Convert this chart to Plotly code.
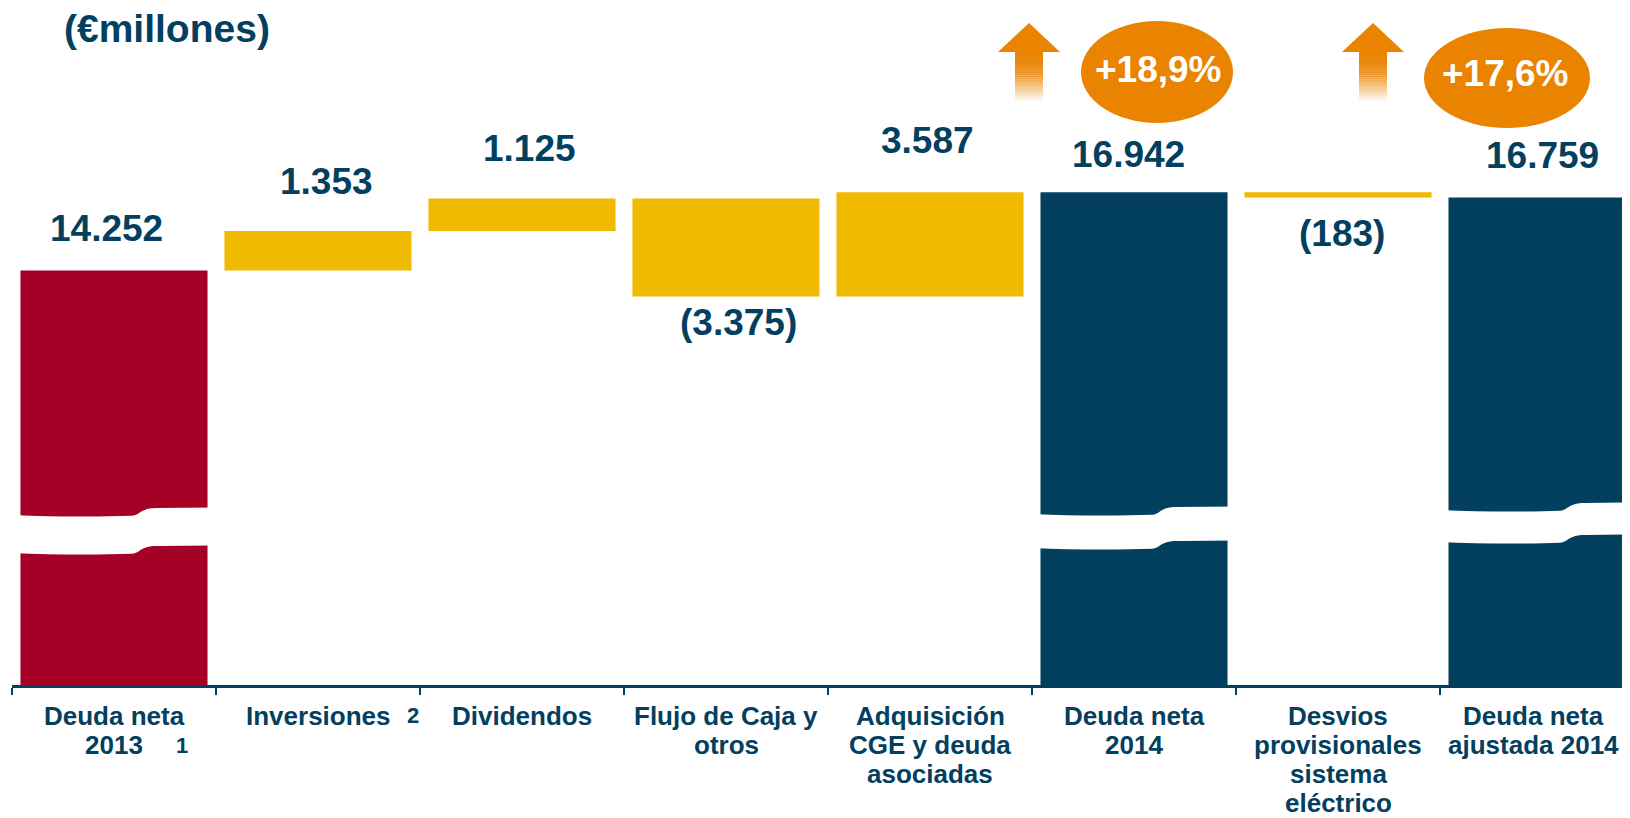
import plotly.graph_objects as go

# ---------------- data ----------------
categories = [
    "Deuda neta<br>2013",
    "Inversiones",
    "Dividendos",
    "Flujo de Caja y<br>otros",
    "Adquisición<br>CGE y deuda<br>asociadas",
    "Deuda neta<br>2014",
    "Desvios<br>provisionales<br>sistema<br>eléctrico",
    "Deuda neta<br>ajustada 2014",
]
values = [14252, 1353, 1125, -3375, 3587, 16942, -183, 16759]
is_total = [True, False, False, False, False, True, False, True]
value_labels = ["14.252", "1.353", "1.125", "(3.375)", "3.587", "16.942", "(183)", "16.759"]
footnote_marks = ["1", "2"]
growth_labels = ["+18,9%", "+17,6%"]
unit_title = "(€millones)"

# ---------------- style / layout ----------------
RED = "#A50026"
NAVY = "#03405F"
YELLOW = "#F0BA00"
ORANGE = "#E98300"
FONT = "Liberation Sans, Arial, sans-serif"

OFF = 8                      # page body margin of the html page
WIN_W, WIN_H = 1630, 818
W, H = WIN_W - OFF, WIN_H - OFF
AXIS_Y = 685                 # window px of the x axis
ML = 12 - OFF
PLOT_H = AXIS_Y - OFF
MB = H - PLOT_H
STEP = 204.0                 # px per category
UPP = 34.38                  # value units per px
YMAX = PLOT_H * UPP
XMAX = -0.5 + (W - ML) / STEP


def px_x(px):                # window px -> x data
    return -0.5 + (px - 12) / STEP


def px_y(py):                # window px -> y data
    return (AXIS_Y - py) * UPP


def paper_y(py):
    return px_y(py) / YMAX


# ---------------- waterfall geometry ----------------
bases, heights = [], []
running = 0
for v, t in zip(values, is_total):
    if t:
        bases.append(0)
        heights.append(v)
        running = v
    else:
        if v >= 0:
            bases.append(running)
            heights.append(v)
        else:
            bases.append(running + v)
            heights.append(-v)
        running += v

colors = []
for i, t in enumerate(is_total):
    if t:
        colors.append(RED if i == 0 else NAVY)
    else:
        colors.append(YELLOW)

xs = list(range(len(categories)))

fig = go.Figure()
fig.add_trace(go.Bar(
    x=xs, y=heights, base=bases, width=0.917,
    marker=dict(color=colors, line=dict(width=0)),
    hoverinfo="skip", showlegend=False,
))

annotations = []
# value labels
label_dy = [42, 50, 50, 26, 52, 38, 36, 42]
label_dx = [-8, 8, 7, 12, -3, -6, 4, 0]
for i, (v, t) in enumerate(zip(values, is_total)):
    if t or v >= 0:
        y = bases[i] + heights[i]
        ys = label_dy[i]
    else:
        y = bases[i]
        ys = -label_dy[i]
    annotations.append(dict(
        x=xs[i], y=y, xref="x", yref="y", text=value_labels[i], showarrow=False,
        xanchor="center", yanchor="middle", yshift=ys, xshift=label_dx[i],
        font=dict(family=FONT, size=37, color=NAVY, weight="bold"),
    ))

# category labels (one annotation per line for tight line spacing)
LINE0, LINE_STEP = 716, 29.1
cat_dx = [0, 0, 0, 0, 0, 0, 0, -9]
for i, cat in enumerate(categories):
    for k, line in enumerate(cat.split("<br>")):
        annotations.append(dict(
            x=xs[i], y=paper_y(LINE0 + k * LINE_STEP), xref="x", yref="paper",
            text=line, showarrow=False, xanchor="center", yanchor="middle",
            xshift=cat_dx[i],
            font=dict(family=FONT, size=26, color=NAVY, weight="bold"),
        ))

# footnote marks on category labels
foot_pos = [(182, 745), (413, 715)]
for mark, (fx, fy) in zip(footnote_marks, foot_pos):
    annotations.append(dict(
        x=px_x(fx), y=paper_y(fy), xref="x", yref="paper", text=mark, showarrow=False,
        xanchor="center", yanchor="middle",
        font=dict(family=FONT, size=22, color=NAVY, weight="bold"),
    ))

# title
annotations.append(dict(
    x=px_x(62), y=paper_y(29), xref="x", yref="paper", text=unit_title, showarrow=False,
    xanchor="left", yanchor="middle",
    font=dict(family=FONT, size=39, color=NAVY, weight="bold"),
))

shapes = []

# broken-axis bands on total bars
band_mid_px = {0: 534, 5: 531, 7: 526}
band_half_px = {0: 19, 5: 17, 7: 16}
for i, mid in band_mid_px.items():
    hw = 0.5
    xl, xr = xs[i] - hw, xs[i] + hw
    xs_step = xs[i] - 0.458 + 0.64 * 0.917
    sag = 2 * UPP
    rise = 7 * UPP
    yt = px_y(mid - band_half_px[i])
    yb = px_y(mid + band_half_px[i])
    d = 0.04
    path = (
        f"M {xl},{yt} "
        f"C {xl + 0.2},{yt - sag} {xs_step - 0.2},{yt - sag} {xs_step - d},{yt - sag * 0.4} "
        f"C {xs_step},{yt} {xs_step},{yt + rise} {xs_step + d * 2},{yt + rise} "
        f"L {xr},{yt + rise + sag * 0.3} "
        f"L {xr},{yb + rise + sag * 0.3} "
        f"L {xs_step + d * 2},{yb + rise} "
        f"C {xs_step},{yb + rise} {xs_step},{yb} {xs_step - d},{yb - sag * 0.4} "
        f"C {xs_step - 0.2},{yb - sag} {xl + 0.2},{yb - sag} {xl},{yb} Z"
    )
    shapes.append(dict(type="path", path=path, xref="x", yref="y",
                       fillcolor="white", line=dict(width=0), layer="above"))

# growth arrows (gradient shaft) + ellipses
arrow_tips = [1029, 1373]
ellipses = [(1081, 21, 1233, 123), (1424, 28, 1590, 128)]
ellipse_text = [(1158, 69), (1505, 73)]
for k in range(2):
    cx = arrow_tips[k]
    tip_y, base_y, shaft_bot = 23, 52, 101
    head_hw, shaft_hw = 31, 14
    path = (f"M {px_x(cx)},{px_y(tip_y)} L {px_x(cx + head_hw)},{px_y(base_y)} "
            f"L {px_x(cx - head_hw)},{px_y(base_y)} Z")
    shapes.append(dict(type="path", path=path, xref="x", yref="y",
                       fillcolor=ORANGE, line=dict(width=0), layer="above"))
    n = 24
    seg = (shaft_bot - base_y) / n
    for s in range(n):
        y0 = base_y + s * seg
        op = 1.0 if y0 < 62 else max(0.0, 1 - (y0 - 62) / (shaft_bot - 62))
        shapes.append(dict(type="rect", xref="x", yref="y",
                           x0=px_x(cx - shaft_hw), x1=px_x(cx + shaft_hw),
                           y0=px_y(y0 + seg + 0.5), y1=px_y(y0),
                           fillcolor=ORANGE, opacity=op, line=dict(width=0), layer="above"))
    ex0, ey0, ex1, ey1 = ellipses[k]
    shapes.append(dict(type="circle", xref="x", yref="y",
                       x0=px_x(ex0), x1=px_x(ex1), y0=px_y(ey1), y1=px_y(ey0),
                       fillcolor=ORANGE, line=dict(width=0), layer="above"))
    tx, ty = ellipse_text[k]
    annotations.append(dict(
        x=px_x(tx), y=px_y(ty), xref="x", yref="y", text=growth_labels[k], showarrow=False,
        xanchor="center", yanchor="middle",
        font=dict(family=FONT, size=37, color="white", weight="bold"),
    ))

fig.update_layout(
    width=W, height=H,
    margin=dict(l=ML, r=0, t=0, b=MB, pad=0),
    paper_bgcolor="white", plot_bgcolor="white",
    shapes=shapes, annotations=annotations,
    showlegend=False,
)
fig.update_xaxes(
    range=[-0.5, XMAX], tickmode="array", tickvals=xs, ticktext=[""] * len(xs),
    showticklabels=False, ticks="", showgrid=False, zeroline=False,
    showline=True, linecolor=NAVY, linewidth=2.5,
    minor=dict(tickmode="array", tickvals=[i - 0.5 for i in xs], ticks="outside",
               ticklen=7, tickwidth=2, tickcolor=NAVY, showgrid=False),
    fixedrange=True,
)
fig.update_yaxes(range=[0, YMAX], visible=False, showgrid=False, zeroline=False, fixedrange=True)

fig.write_html("out.html", config={"displayModeBar": False})
